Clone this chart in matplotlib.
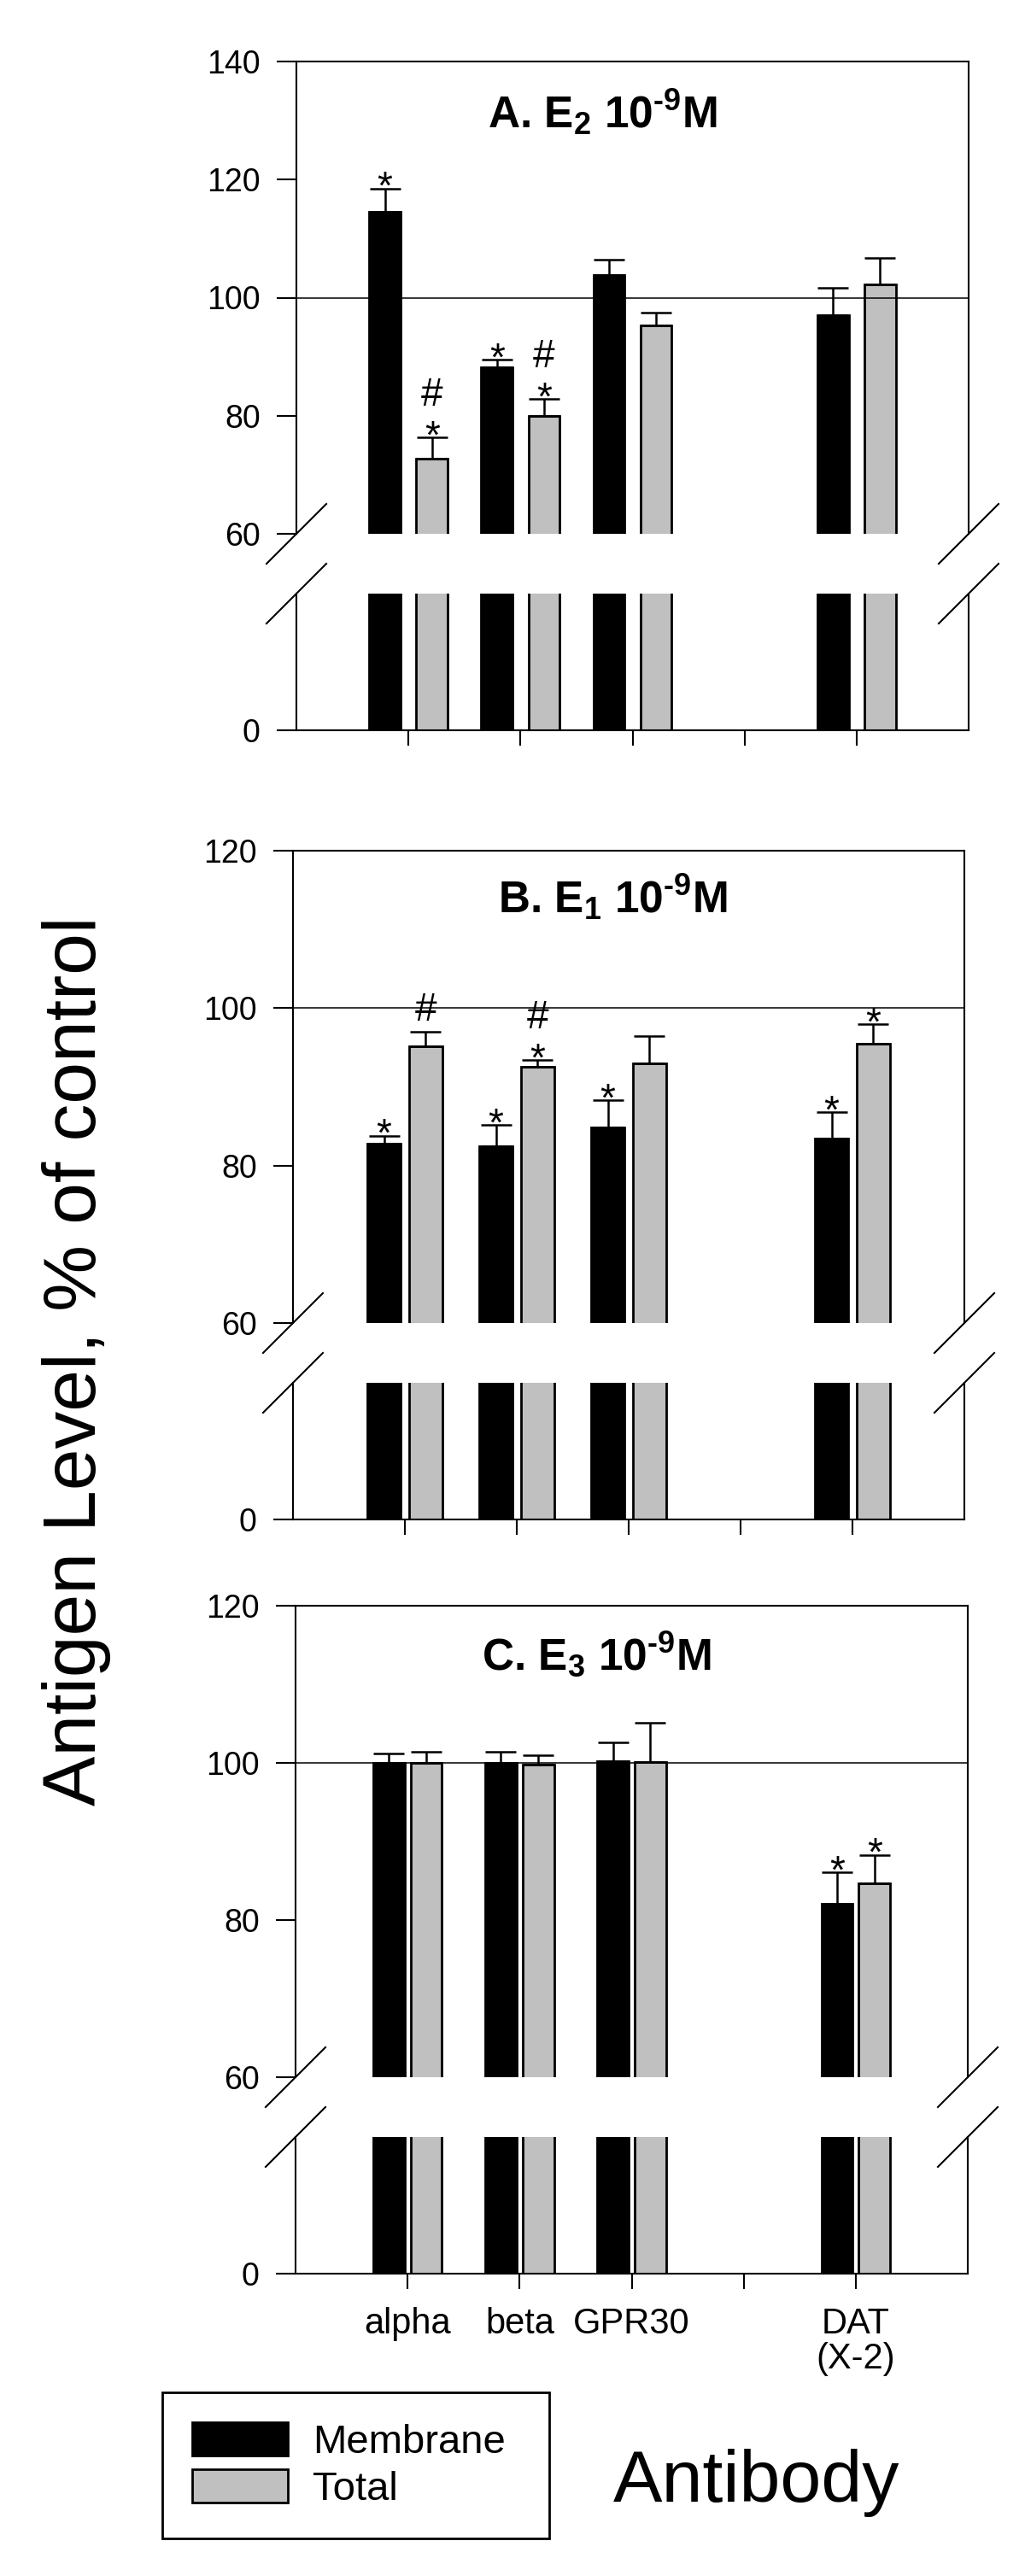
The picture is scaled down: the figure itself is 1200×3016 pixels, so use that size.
import matplotlib
matplotlib.use("Agg")
import matplotlib.pyplot as plt
from matplotlib.patches import Patch
from matplotlib import font_manager

plt.rcParams['font.family'] = ['Liberation Sans', 'DejaVu Sans']
plt.rcParams['mathtext.default'] = 'regular'

# data (% of control)
antibodies = ['alpha', 'beta', 'GPR30', '', 'DAT\n(X-2)']
group_pos = [1, 2, 3, 5]          # tick 4 stays empty

# A. E2
a_mem = [114.6, 88.2, 103.8, 97.0]
a_mem_err = [3.9, 1.3, 2.7, 4.6]
a_tot = [72.8, 80.0, 95.3, 102.3]
a_tot_err = [3.5, 2.8, 2.1, 4.4]
a_mem_star = [1, 1, 0, 0]
a_tot_star = [1, 1, 0, 0]
a_tot_hash = [1, 1, 0, 0]

# B. E1
b_mem = [82.8, 82.5, 84.9, 83.4]
b_mem_err = [1.0, 2.7, 3.4, 3.4]
b_tot = [95.1, 92.5, 93.0, 95.5]
b_tot_err = [1.9, 0.9, 3.5, 2.5]
b_mem_star = [1, 1, 1, 1]
b_tot_star = [0, 1, 0, 1]
b_tot_hash = [1, 1, 0, 0]

# C. E3
c_mem = [100.0, 100.0, 100.2, 82.1]
c_mem_err = [1.2, 1.4, 2.4, 4.0]
c_tot = [100.0, 99.8, 100.1, 84.7]
c_tot_err = [1.4, 1.2, 5.0, 3.6]
c_mem_star = [0, 0, 0, 1]
c_tot_star = [0, 0, 0, 1]
c_tot_hash = [0, 0, 0, 0]

W, H = 1200, 3016
GREY = '#c0c0c0'
LW = 1.5

fig = plt.figure(figsize=(W / 100, H / 100), dpi=100)


def box(l, r, t, b):
    return [l / W, 1 - b / H, (r - l) / W, (b - t) / H]


def draw_panel(px, title, title_cx, title_dy, ymax, mem, mem_err, tot, tot_err,
               mem_star, tot_star, tot_hash, off, width, labels):
    l, r, t, brk_top, brk_bot, b = px
    up = fig.add_axes(box(l, r, t, brk_top))
    lo = fig.add_axes(box(l, r, brk_bot, b))

    xm = [g - off for g in group_pos]
    xt = [g + off for g in group_pos]
    for ax in (up, lo):
        ax.bar(xm, mem, width, color='black', edgecolor='black', linewidth=2, zorder=2)
        ax.bar(xt, tot, width, color=GREY, edgecolor='black', linewidth=2, zorder=2)
        ax.set_xlim(0, 6)
        ax.set_xticks([1, 2, 3, 4, 5])
        for s in ax.spines.values():
            s.set_linewidth(LW)
        ax.tick_params(axis='y', direction='out', length=16.5, width=LW, pad=14,
                       labelsize=27)
        ax.tick_params(axis='x', direction='out', length=13, width=LW, pad=15,
                       labelsize=30)

    up.set_ylim(60, ymax)
    up.set_yticks(range(60, ymax + 1, 20))
    up.spines['bottom'].set_visible(False)
    up.tick_params(axis='x', bottom=False, labelbottom=False)
    up.axhline(100, color='black', lw=1.1, zorder=4)

    lo.set_ylim(0, 50)
    lo.set_yticks([0])
    lo.spines['top'].set_visible(False)
    if labels:
        lo.set_xticklabels(antibodies, linespacing=1.05)
        # DAT label sits a little right of its tick in the original
        lo.get_xticklabels()[4].set_x(5.07)
    else:
        lo.tick_params(axis='x', labelbottom=False)

    zeros = [0] * len(group_pos)
    for x, v, e in ((xm, mem, mem_err), (xt, tot, tot_err)):
        up.errorbar(x, v, yerr=[zeros, e], fmt='none', ecolor='black',
                    elinewidth=1.8, capsize=13.3, capthick=1.8, zorder=3)

    for i in range(len(group_pos)):
        if mem_star[i]:
            up.annotate('*', (xm[i], mem[i] + mem_err[i]), xytext=(0, -9),
                        textcoords='offset points', ha='center', va='baseline', fontsize=33)
        if tot_star[i]:
            up.annotate('*', (xt[i], tot[i] + tot_err[i]), xytext=(0, -9),
                        textcoords='offset points', ha='center', va='baseline', fontsize=33)
        if tot_hash[i]:
            dy = 27 if tot_star[i] else 9.5
            up.annotate('#', (xt[i], tot[i] + tot_err[i]), xytext=(0, dy),
                        textcoords='offset points', ha='center', va='baseline', fontsize=33)

    up.text((title_cx - l) / (r - l), 1 - title_dy / (brk_top - t), title,
            transform=up.transAxes, ha='center', va='baseline', fontsize=37,
            fontweight='bold')

    # axis break marks
    dx = 35 / (r - l)
    dyu = 35 / (brk_top - t)
    dyl = 35 / (b - brk_bot)
    kw = dict(color='black', lw=LW, clip_on=False)
    for xx in (0, 1):
        up.plot([xx - dx, xx + dx], [-dyu, dyu], transform=up.transAxes, **kw)
        lo.plot([xx - dx, xx + dx], [1 - dyl, 1 + dyl], transform=lo.transAxes, **kw)


draw_panel((347, 1134, 72, 625, 695, 855), 'A. E$_{2}$ 10$^{\u20109}$M', 705, 78, 140,
           a_mem, a_mem_err, a_tot, a_tot_err, a_mem_star, a_tot_star, a_tot_hash,
           0.21, 0.28, False)
draw_panel((343, 1129, 996, 1549, 1619, 1779), 'B. E$_{1}$ 10$^{\u20109}$M', 717, 74, 120,
           b_mem, b_mem_err, b_tot, b_tot_err, b_mem_star, b_tot_star, b_tot_hash,
           0.187, 0.30, False)
draw_panel((346, 1133, 1880, 2432, 2502, 2662), 'C. E$_{3}$ 10$^{\u20109}$M', 698, 75, 120,
           c_mem, c_mem_err, c_tot, c_tot_err, c_mem_star, c_tot_star, c_tot_hash,
           0.167, 0.28, True)

# big y label (condensed face if available)
names = {f.name for f in font_manager.fontManager.ttflist}
if 'Liberation Sans Narrow' in names:
    yl_family, yl_size = ['Liberation Sans Narrow', 'DejaVu Sans'], 76
else:
    yl_family, yl_size = ['Liberation Sans', 'DejaVu Sans'], 63
fig.text(90 / W, 1 - 1593 / H, 'Antigen Level, % of control', rotation=90,
         ha='center', va='center', fontsize=yl_size, family=yl_family)

fig.text(886 / W, 1 - 2929 / H, 'Antibody', ha='center', va='baseline', fontsize=62)

handles = [Patch(facecolor='black', edgecolor='black', linewidth=2),
           Patch(facecolor=GREY, edgecolor='black', linewidth=2)]
leg = fig.legend(handles, ['Membrane', 'Total'], loc='upper left',
                 bbox_to_anchor=(190 / W, 1 - 2984 / H, (643 - 190) / W, (2984 - 2801) / H),
                 mode='expand', borderaxespad=0, fontsize=34, handlelength=2.36,
                 handleheight=0.87, handletextpad=0.62, borderpad=0.75,
                 labelspacing=0.2, fancybox=False, framealpha=1, edgecolor='black')
leg.get_frame().set_linewidth(2)

fig.savefig('out.png', dpi=100)
